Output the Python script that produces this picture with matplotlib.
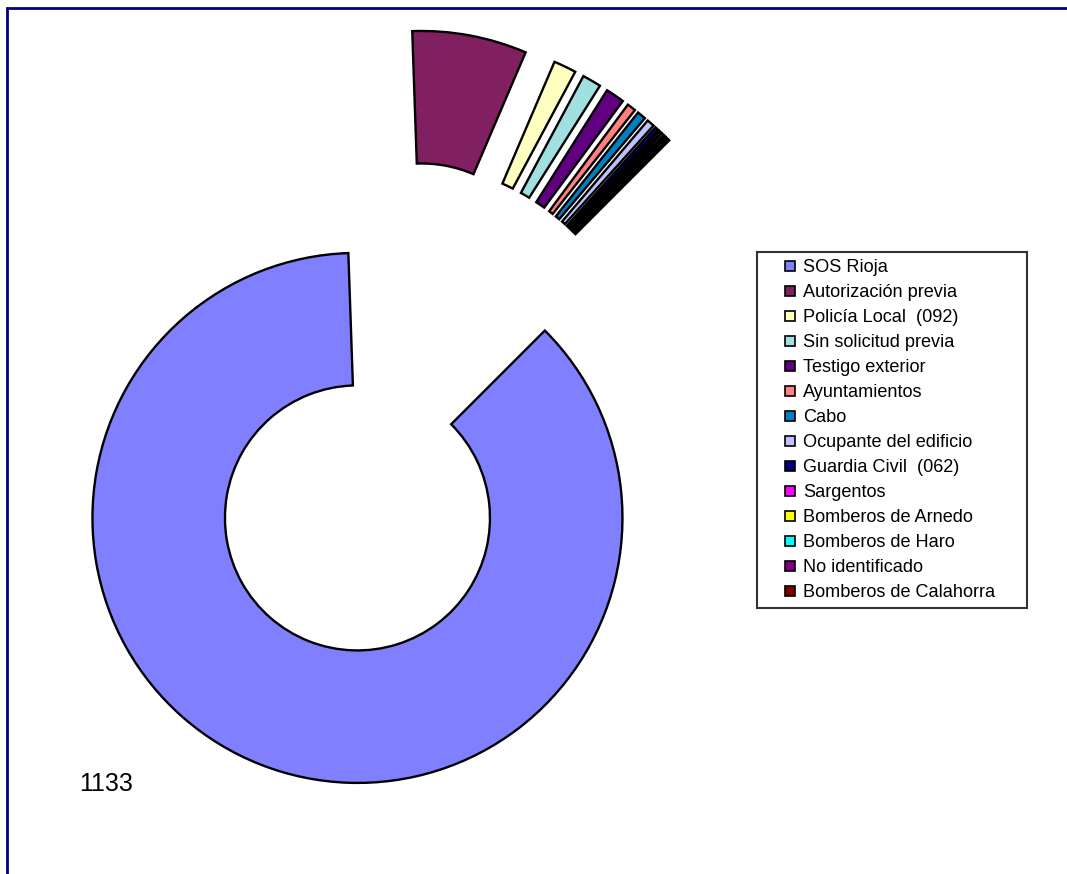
import matplotlib
matplotlib.use('Agg')
import matplotlib.pyplot as plt
from matplotlib.patches import Rectangle, Wedge
from matplotlib.legend_handler import HandlerPatch

plt.rcParams['font.family'] = ['Liberation Sans', 'DejaVu Sans']

# data
labels = ['SOS Rioja', 'Autorización previa', 'Policía Local  (092)',
          'Sin solicitud previa', 'Testigo exterior', 'Ayuntamientos', 'Cabo',
          'Ocupante del edificio', 'Guardia Civil  (062)', 'Sargentos',
          'Bomberos de Arnedo', 'Bomberos de Haro', 'No identificado',
          'Bomberos de Calahorra']
values = [1133, 91, 18, 15, 15, 7, 7, 6, 3, 2, 2, 1, 2, 1]
colors = ['#8080FF', '#802060', '#FFFFC0', '#A0E0E0', '#600080', '#FF8080',
          '#0080C0', '#C0C0FF', '#000080', '#FF00FF', '#FFFF00', '#00FFFF',
          '#800080', '#800000']

W, H = 1067, 874
fig = plt.figure(figsize=(W / 100, H / 100), dpi=100)
ax = fig.add_axes([0, 0, 1, 1])

R = 265
cx, cy = 400, H - 410
# whole series exploded, as in the spreadsheet chart
explode = [116] * len(values)

wedges, _ = ax.pie(values, colors=colors, startangle=45, counterclock=False,
                   radius=R, center=(cx, cy), explode=explode,
                   wedgeprops=dict(width=R / 2, edgecolor='black', linewidth=1.7))

ax.set_xlim(0, W)
ax.set_ylim(0, H)
ax.set_aspect('equal')
ax.axis('off')

# value label of the big slice
ax.text(106, H - 784, str(values[0]), fontsize=18, ha='center', va='center')


def square(legend, orig_handle, xdescent, ydescent, width, height, fontsize):
    s = 7.2
    return Rectangle((-xdescent + width - s, -ydescent + (height - s) / 2), s, s)


leg = fig.legend(wedges, labels, loc='upper left',
                 bbox_to_anchor=(757 / W, 0.2, 270 / W, 1 - 252 / H - 0.2),
                 bbox_transform=fig.transFigure, mode='expand',
                 fontsize=13.1, frameon=True, fancybox=False, borderaxespad=0,
                 borderpad=0.38, handlelength=1.7, handleheight=0.7,
                 handletextpad=0.44, labelspacing=0.44,
                 handler_map={Wedge: HandlerPatch(patch_func=square)})
leg.get_frame().set_edgecolor('black')
leg.get_frame().set_linewidth(1.5)
for h in leg.legend_handles:
    h.set_linewidth(1.2)

# chart area border (only top and left visible)
fig.patches.append(Rectangle((7 / W, -0.1), 1.2, 1 - 8 / H + 0.1,
                             transform=fig.transFigure, fill=False,
                             edgecolor='#000080', linewidth=2))

fig.savefig('out.png', dpi=100)
